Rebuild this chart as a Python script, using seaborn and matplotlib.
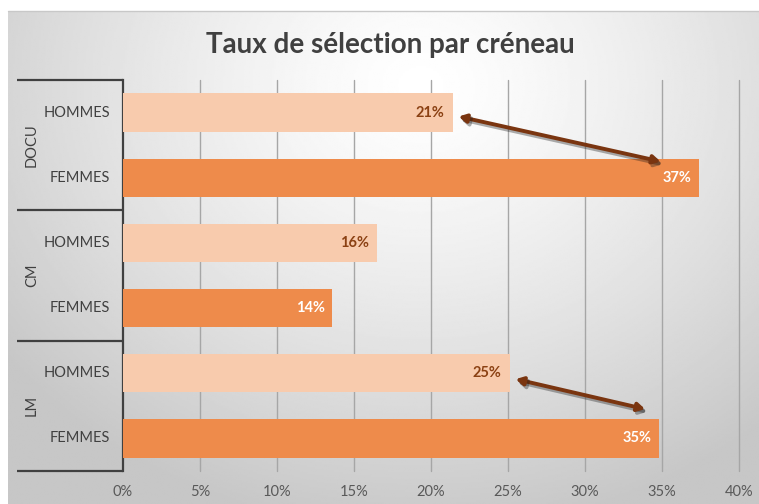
import numpy as np
import pandas as pd
import seaborn as sns
import matplotlib.pyplot as plt
import matplotlib.patheffects as pe
from matplotlib.transforms import blended_transform_factory

# Chart data
creneaux = ["DOCU", "CM", "LM"]
sexes = ["HOMMES", "FEMMES"]
taux = [21.4, 37.4, 16.5, 13.6, 25.1, 34.8]
taux_labels = ["21%", "37%", "16%", "14%", "25%", "35%"]
x_ticks = [0, 5, 10, 15, 20, 25, 30, 35, 40]
x_tick_labels = ["0%", "5%", "10%", "15%", "20%", "25%", "30%", "35%", "40%"]
# arrows (start x, start y, end x, end y) in data units
arrows = [(21.8, 0.06, 34.9, 0.75), (25.5, 4.09, 33.9, 4.55)]

df = pd.DataFrame({
    "creneau": np.repeat(creneaux, 2),
    "sexe": sexes * 3,
    "taux": taux,
})
df["cle"] = df["creneau"] + "-" + df["sexe"]

sns.set_theme(style="white")
plt.rcParams["font.family"] = ["Lato", "DejaVu Sans"]

fig = plt.figure(figsize=(7.59, 5.04), dpi=100)
fig.patch.set_facecolor("white")

# gradient background
bg = fig.add_axes([8 / 759, 0, 1 - 8 / 759, 1 - 11 / 504])
yy, xx = np.mgrid[0:1:300j, 0:1:400j]
r = np.sqrt(((xx - 0.55) * 1.3) ** 2 + ((yy - 0.15) * 1.0) ** 2)
shade = np.clip(1 - 0.25 * r ** 1.3, 0.78, 1)
bg.imshow(shade, cmap="gray", vmin=0, vmax=1, aspect="auto", extent=[0, 1, 1, 0])
bg.set_axis_off()
fig.add_artist(plt.Line2D([8 / 759, 1], [1 - 11 / 504] * 2, color="#c8c8c8", lw=1))

ax = fig.add_axes([123 / 759, 1 - 471 / 504, 616 / 759, 391 / 504])
ax.set_facecolor("none")
ax.set_zorder(2)

palette = {"HOMMES": "#F8CBAD", "FEMMES": "#EE8B4B"}
sns.barplot(data=df, y="cle", x="taux", hue="sexe", palette=palette, order=list(df["cle"]),
            dodge=False, width=0.59, saturation=1, legend=False, orient="h", ax=ax,
            linewidth=0, edgecolor="none", zorder=3)

ax.set_xlim(0, 40)
ax.set_ylim(5.5, -0.5)
ax.set_xticks(x_ticks)
ax.set_xticklabels(x_tick_labels, color="#595959", fontsize=10.5)
ax.tick_params(axis="x", length=0, pad=10)
ax.set_yticks([])
ax.set_xlabel("")
ax.set_ylabel("")
for x in x_ticks[1:]:
    ax.axvline(x, color="#a6a6a6", lw=1, zorder=1, clip_on=False)
for side in ["top", "right", "bottom"]:
    ax.spines[side].set_visible(False)
ax.spines["left"].set_color("#404040")
ax.spines["left"].set_linewidth(1.6)

# value labels
for i, (v, lab) in enumerate(zip(taux, taux_labels)):
    col = "#8B4113" if df["sexe"].iloc[i] == "HOMMES" else "white"
    ax.text(v - 0.5, i, lab, ha="right", va="center", fontsize=10.5, fontweight="bold",
            color=col, zorder=4)

# multi-level category axis
trans = blended_transform_factory(ax.transAxes, ax.transData)
for b in [-0.5, 1.5, 3.5, 5.5]:
    ax.plot([-106 / 616, 0], [b, b], transform=trans, color="#404040", lw=1.6,
            clip_on=False, solid_capstyle="butt")
for i, cle in enumerate(df["cle"]):
    ax.text(-13 / 616, i, df["sexe"].iloc[i], transform=trans, ha="right", va="center",
            fontsize=10.5, color="#404040")
for g, name in enumerate(creneaux):
    ax.text(-91 / 616, 2 * g + 0.5, name, transform=trans, ha="center", va="center",
            rotation=90, fontsize=10.5, color="#404040")

# arrows
for x0, y0, x1, y1 in arrows:
    ax.annotate("", xy=(x1, y1), xytext=(x0, y0),
                arrowprops=dict(arrowstyle="<|-|>,head_length=0.35,head_width=0.2",
                                color="#7A3510", lw=2.8, shrinkA=0, shrinkB=0,
                                path_effects=[pe.SimpleLineShadow(offset=(1.5, -2), alpha=0.35),
                                              pe.Normal()]),
                zorder=5)

fig.text(390 / 759, 1 - 45 / 504, "Taux de sélection par créneau", ha="center", va="center",
         fontsize=20, fontweight="bold", color="#404040")

fig.savefig("out.png", dpi=100)
